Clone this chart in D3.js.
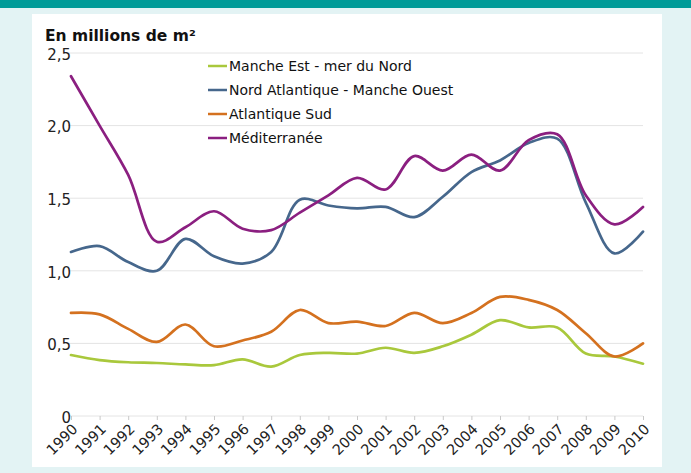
<!DOCTYPE html>
<meta charset="utf-8">
<style>
  body { margin: 0; background: #e3f3f4; }
  svg { display: block; font-family: "DejaVu Sans", Verdana, sans-serif; }
  .grid line { stroke: #e4e4e4; stroke-width: 1; }
  .axis text { fill: #222; }
  .serie { fill: none; stroke-width: 2.7; stroke-linejoin: round; stroke-linecap: round; }
</style>
<svg width="691" height="473"></svg>
<script src="https://cdnjs.cloudflare.com/ajax/libs/d3/7.8.5/d3.min.js"></script>
<script>
var years = d3.range(1990, 2011);

var mancheEst = [0.42, 0.385, 0.37, 0.365, 0.355, 0.35, 0.39, 0.34, 0.42, 0.435, 0.43,
  0.47, 0.435, 0.48, 0.56, 0.66, 0.61, 0.61, 0.43, 0.41, 0.36];
var nordAtlantique = [1.13, 1.17, 1.06, 1.00, 1.22, 1.10, 1.05, 1.13, 1.49, 1.45, 1.43,
  1.44, 1.37, 1.51, 1.68, 1.76, 1.88, 1.91, 1.47, 1.12, 1.27];
var atlantiqueSud = [0.71, 0.70, 0.60, 0.51, 0.63, 0.48, 0.52, 0.58, 0.73, 0.64, 0.65,
  0.62, 0.71, 0.64, 0.71, 0.82, 0.80, 0.73, 0.57, 0.41, 0.50];
var mediterranee = [2.34, 2.00, 1.66, 1.20, 1.30, 1.41, 1.29, 1.28, 1.40, 1.52, 1.64,
  1.56, 1.79, 1.69, 1.80, 1.69, 1.90, 1.94, 1.52, 1.32, 1.44];

var seriesNames = ["Manche Est - mer du Nord", "Nord Atlantique - Manche Ouest", "Atlantique Sud", "Méditerranée"];
var seriesColors = ["#a9c83c", "#46678c", "#d4711f", "#8b1f80"];
var seriesValues = [mancheEst, nordAtlantique, atlantiqueSud, mediterranee];

var yTicks = [0, 0.5, 1, 1.5, 2, 2.5];
var yTickLabels = ["0", "0,5", "1,0", "1,5", "2,0", "2,5"];

var svg = d3.select("svg");

// cadre
svg.append("rect").attr("width", 691).attr("height", 8).attr("fill", "#009b98");
svg.append("rect").attr("x", 32).attr("y", 14).attr("width", 630).attr("height", 453).attr("fill", "#fff");

var x = d3.scaleLinear().domain([1990, 2010]).range([71, 643]);
var y = d3.scaleLinear().domain([0, 2.5]).range([416, 53]);

// grille
svg.append("g").attr("class", "grid")
  .selectAll("line").data(yTicks).enter().append("line")
  .attr("x1", 68).attr("x2", 643)
  .attr("y1", function(d) { return y(d); })
  .attr("y2", function(d) { return y(d); });

// axe y
svg.append("g").attr("class", "axis")
  .selectAll("text").data(yTicks).enter().append("text")
  .attr("x", 71).attr("y", function(d) { return y(d); })
  .attr("dy", "0.45em")
  .attr("text-anchor", "end")
  .style("font-size", "15px")
  .text(function(d, i) { return yTickLabels[i]; });

// axe x
var xAxis = svg.append("g").attr("class", "axis")
  .attr("transform", "translate(0," + y(0) + ")")
  .call(d3.axisBottom(x).tickValues(years).tickFormat(d3.format("d")).tickSize(4));
xAxis.select(".domain").remove();
xAxis.selectAll(".tick line").attr("stroke", "#c8c8c8");
xAxis.selectAll(".tick text")
  .style("font-size", "14.5px")
  .style("font-family", "'DejaVu Sans', Verdana, sans-serif")
  .attr("text-anchor", "end")
  .attr("dx", "0")
  .attr("dy", "0")
  .attr("y", 0)
  .attr("transform", "translate(7,14) rotate(-45)");

// titre
svg.append("text")
  .attr("x", 45).attr("y", 41)
  .style("font-size", "15.5px").style("font-weight", "bold").attr("fill", "#111")
  .text("En millions de m²");

// courbes
var line = d3.line()
  .x(function(d, i) { return x(years[i]); })
  .y(function(d) { return y(d); })
  .curve(d3.curveCatmullRom.alpha(0.5));

svg.selectAll(".serie").data(seriesValues).enter().append("path")
  .attr("class", "serie")
  .attr("stroke", function(d, i) { return seriesColors[i]; })
  .attr("d", line);

// légende
var legend = svg.selectAll(".legend").data(seriesNames).enter().append("g")
  .attr("class", "legend")
  .attr("transform", function(d, i) { return "translate(208," + (66 + i * 24) + ")"; });
legend.append("line")
  .attr("x1", 0).attr("x2", 19)
  .attr("stroke", function(d, i) { return seriesColors[i]; })
  .attr("stroke-width", 2.5);
legend.append("text")
  .attr("x", 21).attr("dy", "0.36em")
  .style("font-size", "14px").attr("fill", "#111")
  .text(function(d) { return d; });
</script>
